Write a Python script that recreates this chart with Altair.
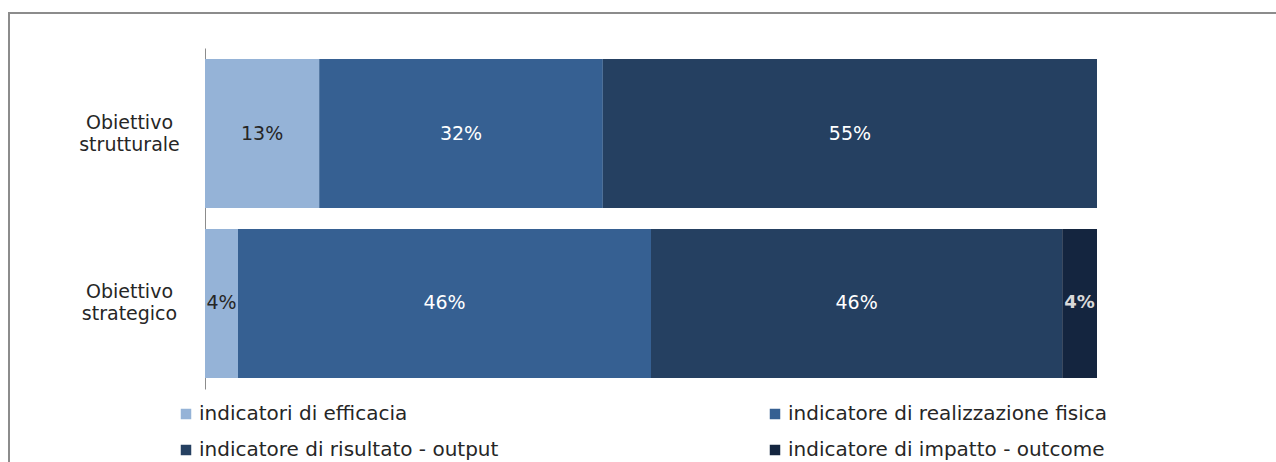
import altair as alt
import pandas as pd

categories = ["Obiettivo\nstrutturale", "Obiettivo\nstrategico"]
series = [
    "indicatori di efficacia",
    "indicatore di realizzazione fisica",
    "indicatore di risultato - output",
    "indicatore di impatto - outcome",
]
values_strutturale = [12.8, 31.8, 55.4, 0.0]
values_strategico = [3.7, 46.3, 46.1, 3.9]
colors = ["#95B3D7", "#366092", "#254061", "#14253F"]

rows = []
for cat, vals in zip(categories, [values_strutturale, values_strategico]):
    for i, (s, v) in enumerate(zip(series, vals)):
        if v > 0:
            rows.append({"cat": cat, "series": s, "order": i, "value": v})
df = pd.DataFrame(rows)

FONT = "DejaVu Sans"

base = alt.Chart(df).transform_stack(
    stack="value", groupby=["cat"], as_=["x0", "x1"],
    sort=[alt.SortField("order", order="ascending")],
).transform_calculate(mid="(datum.x0 + datum.x1) / 2",
                      label="format(datum.value, '.0f') + '%'")

y_enc = alt.Y(
    "cat:N", sort=categories, title=None,
    scale=alt.Scale(paddingInner=0.124, paddingOuter=0.065),
    axis=alt.Axis(
        labelExpr="split(datum.label, '\\n')",
        labelAlign="center", labelPadding=76, labelBaseline="middle",
        labelOffset=-11,
        labelFont=FONT, labelFontSize=19, labelColor="#262626",
        labelLineHeight=22, ticks=False, domainColor="#8c8c8c",
        domainWidth=1, grid=False,
    ),
)

bars = base.mark_bar(strokeWidth=0).encode(
    x=alt.X("x0:Q", scale=alt.Scale(domain=[0, 100], nice=False), axis=None),
    x2="x1:Q",
    y=y_enc,
    color=alt.Color(
        "series:N", sort=series,
        scale=alt.Scale(domain=series, range=colors),
        legend=alt.Legend(
            title=None, orient="none", legendX=-29, legendY=356, direction="horizontal",
            columns=2, columnPadding=266, rowPadding=16,
            symbolType="square", symbolSize=110, symbolStrokeWidth=0,
            labelFont=FONT, labelFontSize=20, labelColor="#262626",
            labelOffset=3, labelLimit=500,
        ),
    ),
    order=alt.Order("order:Q"),
)

texts = base.transform_filter(
    "datum.series != 'indicatore di impatto - outcome'"
).mark_text(font=FONT, fontSize=19, baseline="middle", align="center").encode(
    x=alt.X("mid:Q"),
    y=alt.Y("cat:N", sort=categories),
    text="label:N",
    color=alt.condition("datum.series == 'indicatori di efficacia'",
                        alt.value("#262626"), alt.value("#ffffff")),
)

texts_bold = base.transform_filter(
    "datum.series == 'indicatore di impatto - outcome'"
).mark_text(font=FONT, fontSize=18, baseline="middle", align="center",
            fontWeight="bold", color="#d9d9d9").encode(
    x=alt.X("mid:Q"),
    y=alt.Y("cat:N", sort=categories),
    text="label:N",
)

frame = alt.Chart(pd.DataFrame({"a": [0]})).mark_rect(
    fill=None, stroke="#8c8c8c", strokeWidth=2
).encode(
    x=alt.value(-196), x2=alt.value(1090), y=alt.value(-35), y2=alt.value(440)
)

chart = alt.layer(frame, bars, texts, texts_bold).properties(
    width=892, height=341,
    background="white",
    autosize=alt.AutoSizeParams(type="none"),
    padding={"left": 205, "top": 48, "right": 179, "bottom": 73},
).configure_view(stroke=None)

chart.save("out.html", embed_options={"renderer": "svg", "actions": False})
